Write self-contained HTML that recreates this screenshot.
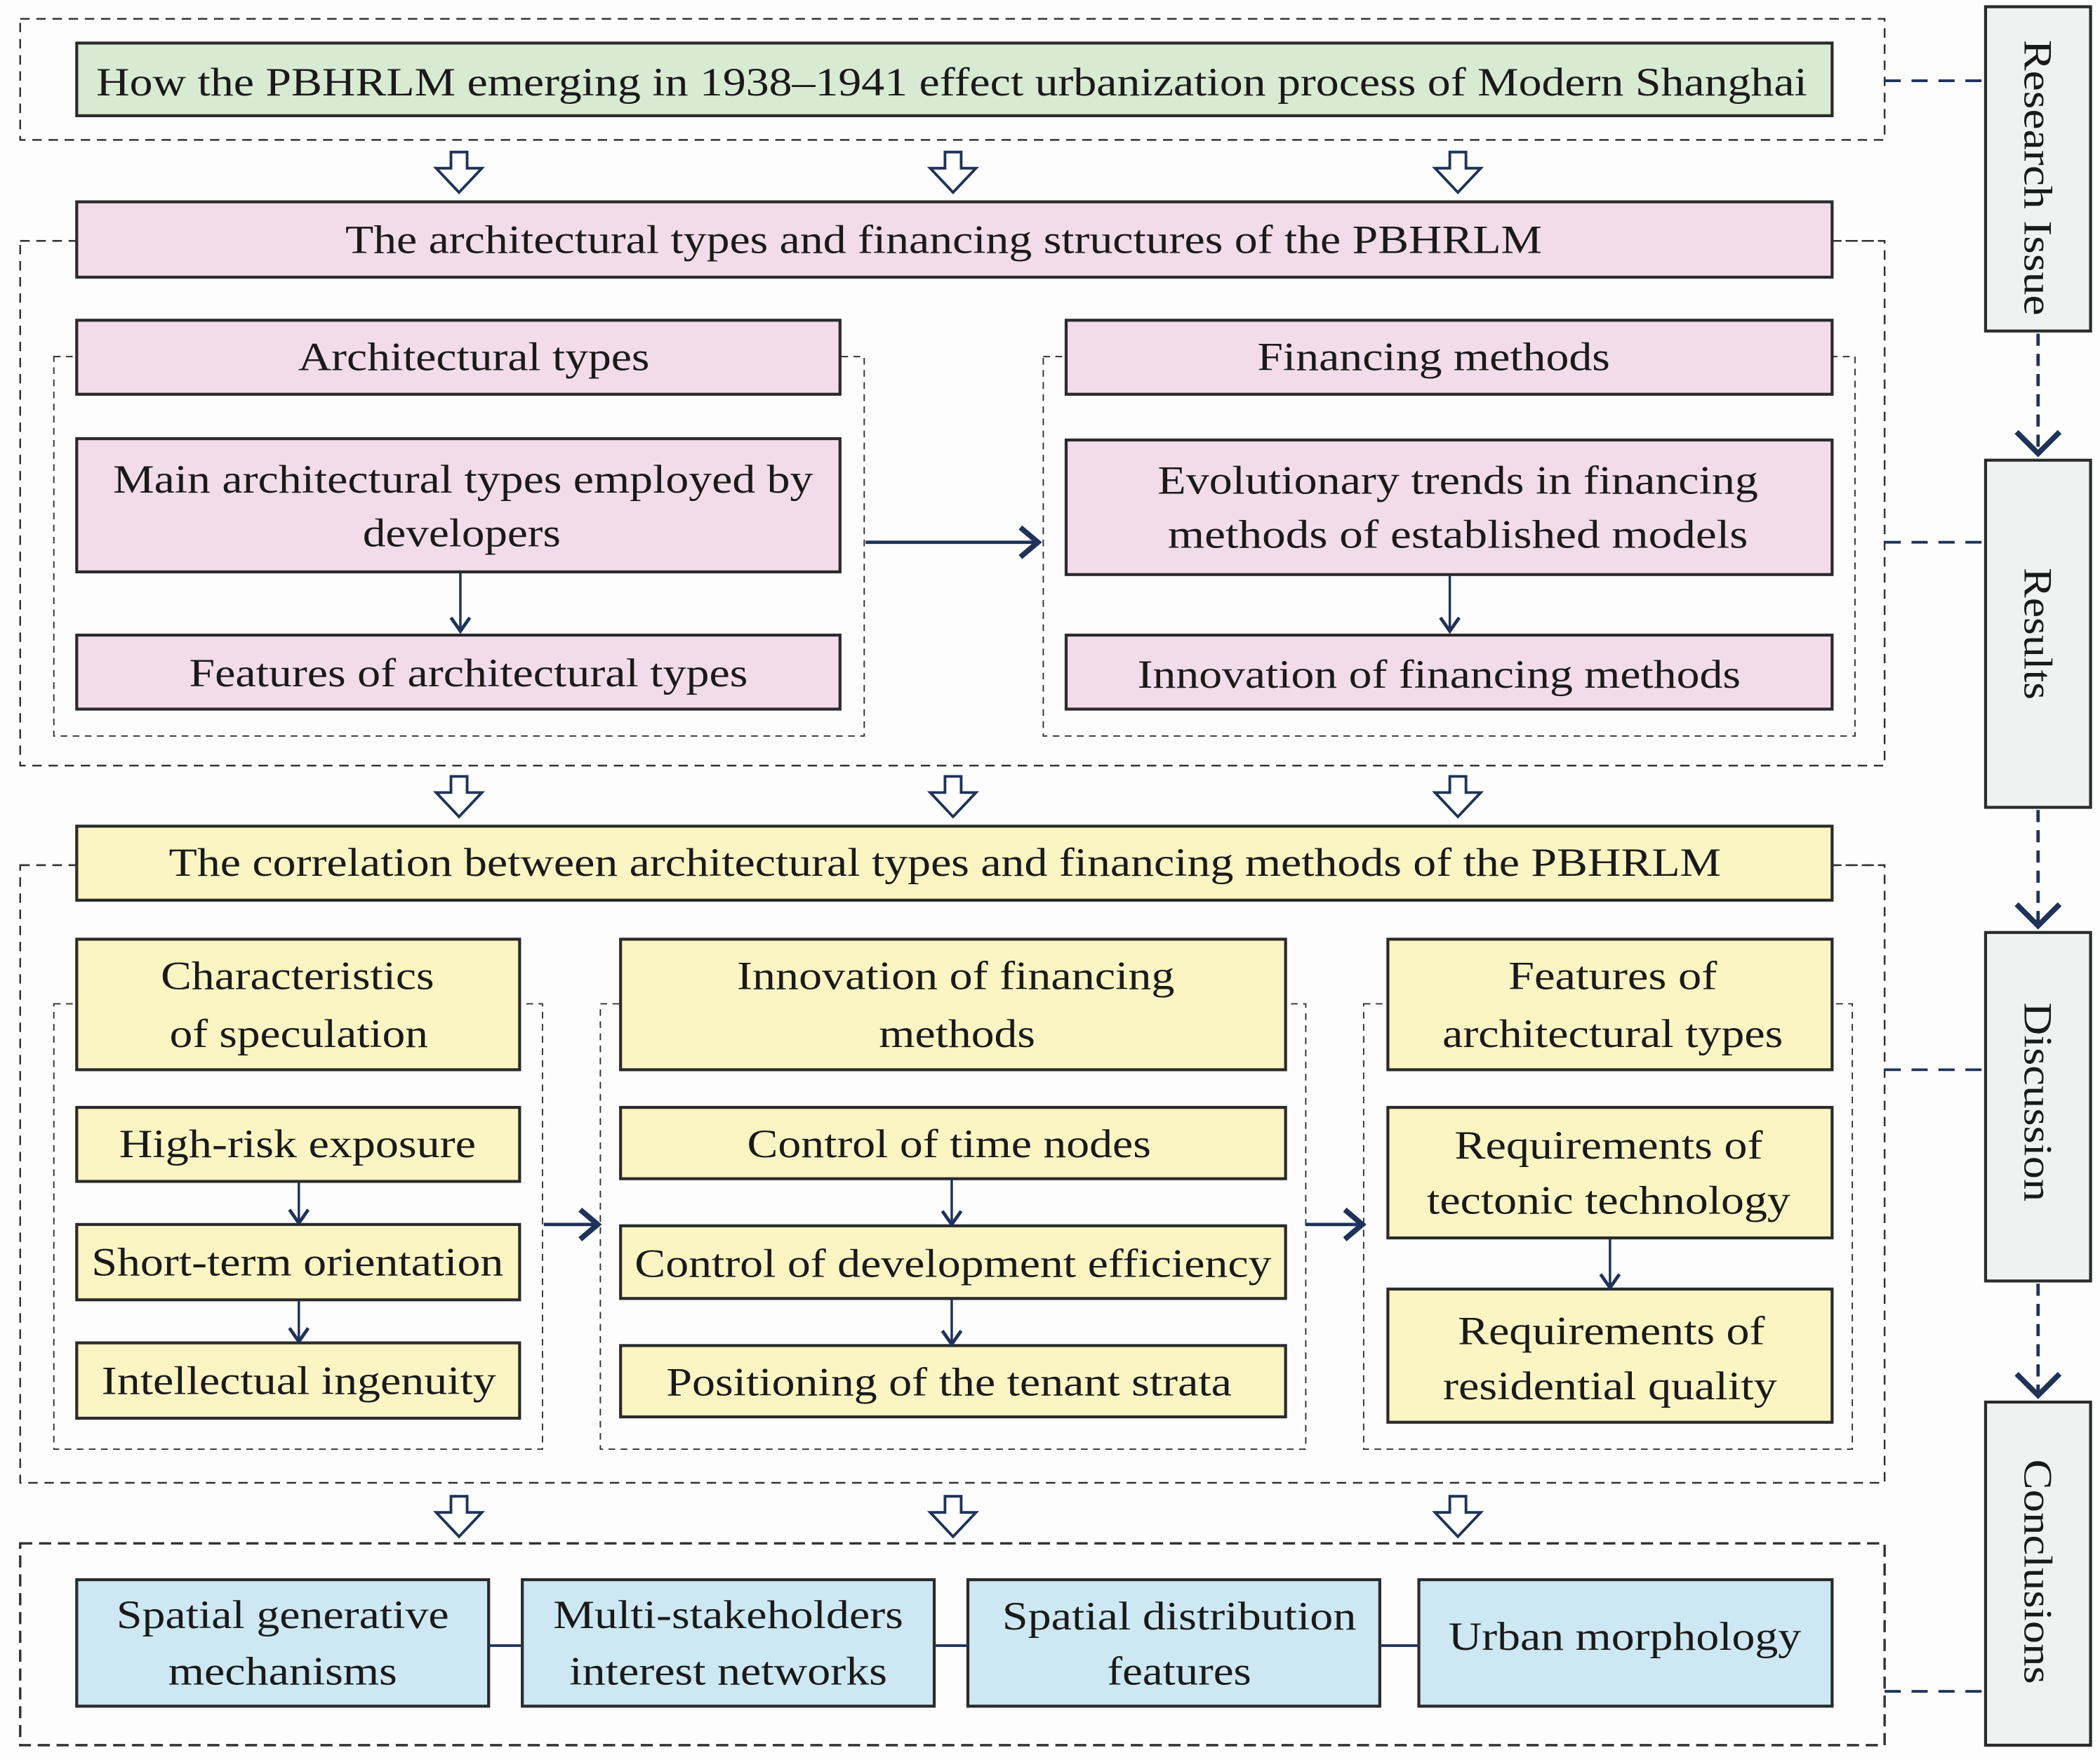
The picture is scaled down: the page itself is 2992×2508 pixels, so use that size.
<!DOCTYPE html>
<html><head><meta charset="utf-8"><style>
html,body{margin:0;padding:0;background:#fdfdfd;}
svg{display:block;}
text{font-family:"Liberation Serif",serif;font-size:30px;fill:#1a1a1a;}
</style></head><body>
<svg width="2992" height="2508" viewBox="0 0 1560 1308" preserveAspectRatio="none" xmlns="http://www.w3.org/2000/svg">
<rect x="0" y="0" width="1560" height="1308" fill="#fdfdfd"/>
<!-- outer dashed sections -->
<g fill="none" stroke="#333" stroke-width="1.3" stroke-dasharray="7,5">
<rect x="15" y="14" width="1385" height="90"/>
<rect x="15" y="179" width="1385" height="390"/>
<rect x="15" y="643" width="1385" height="459"/>
<rect x="15" y="1147" width="1385" height="150" stroke-width="1.8" stroke-dasharray="9,5"/>
<rect x="40" y="265" width="602" height="282" stroke-width="1" stroke-dasharray="5,4"/>
<rect x="775" y="265" width="603" height="282" stroke-width="1" stroke-dasharray="5,4"/>
<rect x="40" y="746" width="363" height="331" stroke-width="1" stroke-dasharray="5,4"/>
<rect x="446" y="746" width="524" height="331" stroke-width="1" stroke-dasharray="5,4"/>
<rect x="1013" y="746" width="363" height="331" stroke-width="1" stroke-dasharray="5,4"/>
</g>
<!-- boxes -->
<g stroke="#2b2b2b" stroke-width="2.2">
<rect x="57" y="32" width="1304" height="54" fill="#d9ead3"/>
<rect x="57" y="150" width="1304" height="56" fill="#f2dcea"/>
<rect x="57" y="238" width="567" height="55" fill="#f2dcea"/>
<rect x="57" y="326" width="567" height="99" fill="#f2dcea"/>
<rect x="57" y="472" width="567" height="55" fill="#f2dcea"/>
<rect x="792" y="238" width="569" height="55" fill="#f2dcea"/>
<rect x="792" y="327" width="569" height="100" fill="#f2dcea"/>
<rect x="792" y="472" width="569" height="55" fill="#f2dcea"/>
<rect x="57" y="614" width="1304" height="55" fill="#fbf5c4"/>
<rect x="57" y="698" width="329" height="97" fill="#fbf5c4"/>
<rect x="57" y="823" width="329" height="55" fill="#fbf5c4"/>
<rect x="57" y="910" width="329" height="56" fill="#fbf5c4"/>
<rect x="57" y="998" width="329" height="56" fill="#fbf5c4"/>
<rect x="461" y="698" width="494" height="97" fill="#fbf5c4"/>
<rect x="461" y="823" width="494" height="53" fill="#fbf5c4"/>
<rect x="461" y="911" width="494" height="54" fill="#fbf5c4"/>
<rect x="461" y="1000" width="494" height="53" fill="#fbf5c4"/>
<rect x="1031" y="698" width="330" height="97" fill="#fbf5c4"/>
<rect x="1031" y="823" width="330" height="97" fill="#fbf5c4"/>
<rect x="1031" y="958" width="330" height="99" fill="#fbf5c4"/>
<rect x="57" y="1174" width="306" height="94" fill="#cde8f2"/>
<rect x="388" y="1174" width="306" height="94" fill="#cde8f2"/>
<rect x="719" y="1174" width="306" height="94" fill="#cde8f2"/>
<rect x="1054" y="1174" width="307" height="94" fill="#cde8f2"/>
<rect x="1475" y="5" width="78" height="241" fill="#f0f1f1"/>
<rect x="1475" y="342" width="78" height="258" fill="#f0f1f1"/>
<rect x="1475" y="693" width="78" height="259" fill="#f0f1f1"/>
<rect x="1475" y="1042" width="78" height="255" fill="#f0f1f1"/>
</g>
<!-- connectors blue boxes -->
<g stroke="#1f3358" stroke-width="2">
<line x1="363" y1="1223" x2="388" y2="1223"/>
<line x1="694" y1="1223" x2="719" y2="1223"/>
<line x1="1025" y1="1223" x2="1054" y2="1223"/>
</g>
<!-- header side dashes -->
<g stroke="#333" stroke-width="1.3" stroke-dasharray="7,5">
<line x1="15" y1="179" x2="57" y2="179"/><line x1="1361" y1="179" x2="1400" y2="179"/>
<line x1="15" y1="643" x2="57" y2="643"/><line x1="1361" y1="643" x2="1400" y2="643"/>
</g>
<!-- right dashed navy lines -->
<g stroke="#1f3358" stroke-width="2" stroke-dasharray="12,8" fill="none">
<line x1="1400" y1="60" x2="1475" y2="60"/>
<line x1="1400" y1="403" x2="1475" y2="403"/>
<line x1="1400" y1="795" x2="1475" y2="795"/>
<line x1="1400" y1="1257" x2="1475" y2="1257"/>
</g>
<g stroke="#1f3358" stroke-width="2.5" stroke-dasharray="9,6" fill="none">
<line x1="1514" y1="248" x2="1514" y2="338"/>
<line x1="1514" y1="602" x2="1514" y2="689"/>
<line x1="1514" y1="954" x2="1514" y2="1038"/>
</g>
<g stroke="#1f3358" stroke-width="4" fill="none">
<polyline points="1498,321 1514,337 1530,321"/>
<polyline points="1498,672 1514,688 1530,672"/>
<polyline points="1498,1021 1514,1037 1530,1021"/>
</g>
<!-- hollow arrows -->
<defs><path id="ha" d="M-6,0 h12 v12 h11 l-17,18 l-17,-18 h11 z" fill="#fff" stroke="#1f3358" stroke-width="2"/></defs>
<use href="#ha" x="341" y="113"/><use href="#ha" x="708" y="113"/><use href="#ha" x="1083" y="113"/>
<use href="#ha" x="341" y="577"/><use href="#ha" x="708" y="577"/><use href="#ha" x="1083" y="577"/>
<use href="#ha" x="341" y="1112"/><use href="#ha" x="708" y="1112"/><use href="#ha" x="1083" y="1112"/>
<!-- solid arrows -->
<g stroke="#1f3358" fill="none">
<line x1="643" y1="403" x2="770" y2="403" stroke-width="2.5"/>
<polyline points="758,392 771,403 758,414" stroke-width="4"/>
<line x1="404" y1="910" x2="443" y2="910" stroke-width="2.5"/>
<polyline points="431,899 444,910 431,921" stroke-width="4"/>
<line x1="970" y1="910" x2="1011" y2="910" stroke-width="2.5"/>
<polyline points="999,899 1012,910 999,921" stroke-width="4"/>
<g stroke-width="1.8">
<line x1="342" y1="426" x2="342" y2="469"/><polyline points="335,459 342,469 349,459" stroke-width="2.5"/>
<line x1="1077" y1="428" x2="1077" y2="469"/><polyline points="1070,459 1077,469 1084,459" stroke-width="2.5"/>
<line x1="222" y1="879" x2="222" y2="909"/><polyline points="215,899 222,909 229,899" stroke-width="2.5"/>
<line x1="222" y1="967" x2="222" y2="997"/><polyline points="215,987 222,997 229,987" stroke-width="2.5"/>
<line x1="707" y1="877" x2="707" y2="910"/><polyline points="700,900 707,910 714,900" stroke-width="2.5"/>
<line x1="707" y1="966" x2="707" y2="999"/><polyline points="700,989 707,999 714,989" stroke-width="2.5"/>
<line x1="1196" y1="921" x2="1196" y2="957"/><polyline points="1189,947 1196,957 1203,947" stroke-width="2.5"/>
</g>
</g>
<!-- text -->
<g text-anchor="middle" lengthAdjust="spacingAndGlyphs">
<text x="707" y="71" textLength="1271" lengthAdjust="spacingAndGlyphs">How the PBHRLM emerging in 1938–1941 effect urbanization process of Modern Shanghai</text>
<text x="701" y="188" textLength="889" lengthAdjust="spacingAndGlyphs">The architectural types and financing structures of the PBHRLM</text>
<text x="352" y="275" textLength="261" lengthAdjust="spacingAndGlyphs">Architectural types</text>
<text x="344" y="366" textLength="520" lengthAdjust="spacingAndGlyphs">Main architectural types employed by</text>
<text x="343" y="406" textLength="147" lengthAdjust="spacingAndGlyphs">developers</text>
<text x="348" y="510" textLength="415" lengthAdjust="spacingAndGlyphs">Features of architectural types</text>
<text x="1065" y="275" textLength="262" lengthAdjust="spacingAndGlyphs">Financing methods</text>
<text x="1083" y="367" textLength="446" lengthAdjust="spacingAndGlyphs">Evolutionary trends in financing</text>
<text x="1083" y="407" textLength="431" lengthAdjust="spacingAndGlyphs">methods of established  models</text>
<text x="1069" y="511" textLength="448" lengthAdjust="spacingAndGlyphs">Innovation of financing methods</text>
<text x="702" y="651" textLength="1153" lengthAdjust="spacingAndGlyphs">The correlation between architectural types and financing methods of the PBHRLM</text>
<text x="221" y="735" textLength="203" lengthAdjust="spacingAndGlyphs">Characteristics</text>
<text x="222" y="778" textLength="192" lengthAdjust="spacingAndGlyphs">of speculation</text>
<text x="221" y="860" textLength="265" lengthAdjust="spacingAndGlyphs">High-risk exposure</text>
<text x="221" y="948" textLength="306" lengthAdjust="spacingAndGlyphs">Short-term orientation</text>
<text x="222" y="1036" textLength="293" lengthAdjust="spacingAndGlyphs">Intellectual ingenuity</text>
<text x="710" y="735" textLength="325" lengthAdjust="spacingAndGlyphs">Innovation of financing</text>
<text x="711" y="778" textLength="116" lengthAdjust="spacingAndGlyphs">methods</text>
<text x="705" y="860" textLength="300" lengthAdjust="spacingAndGlyphs">Control of time nodes</text>
<text x="708" y="949" textLength="473" lengthAdjust="spacingAndGlyphs">Control of development efficiency</text>
<text x="705" y="1037" textLength="420" lengthAdjust="spacingAndGlyphs">Positioning of the tenant strata</text>
<text x="1198" y="735" textLength="155" lengthAdjust="spacingAndGlyphs">Features of</text>
<text x="1198" y="778" textLength="253" lengthAdjust="spacingAndGlyphs">architectural types</text>
<text x="1195" y="861" textLength="229" lengthAdjust="spacingAndGlyphs">Requirements of</text>
<text x="1195" y="902" textLength="270" lengthAdjust="spacingAndGlyphs">tectonic technology</text>
<text x="1197" y="999" textLength="228" lengthAdjust="spacingAndGlyphs">Requirements of</text>
<text x="1196" y="1040" textLength="248" lengthAdjust="spacingAndGlyphs">residential quality</text>
<text x="210" y="1210" textLength="247" lengthAdjust="spacingAndGlyphs">Spatial generative</text>
<text x="210" y="1252" textLength="170" lengthAdjust="spacingAndGlyphs">mechanisms</text>
<text x="541" y="1210" textLength="260" lengthAdjust="spacingAndGlyphs">Multi-stakeholders</text>
<text x="541" y="1252" textLength="236" lengthAdjust="spacingAndGlyphs">interest networks</text>
<text x="876" y="1211" textLength="263" lengthAdjust="spacingAndGlyphs">Spatial distribution</text>
<text x="876" y="1252" textLength="107" lengthAdjust="spacingAndGlyphs">features</text>
<text x="1207" y="1226" textLength="262" lengthAdjust="spacingAndGlyphs">Urban morphology</text>
<text transform="translate(1504,132) rotate(90)" textLength="205" lengthAdjust="spacingAndGlyphs">Research Issue</text>
<text transform="translate(1504,471) rotate(90)" textLength="98" lengthAdjust="spacingAndGlyphs">Results</text>
<text transform="translate(1504,819) rotate(90)" textLength="148" lengthAdjust="spacingAndGlyphs">Discussion</text>
<text transform="translate(1504,1168) rotate(90)" textLength="167" lengthAdjust="spacingAndGlyphs">Conclusions</text>
</g>
</svg>
</body></html>
